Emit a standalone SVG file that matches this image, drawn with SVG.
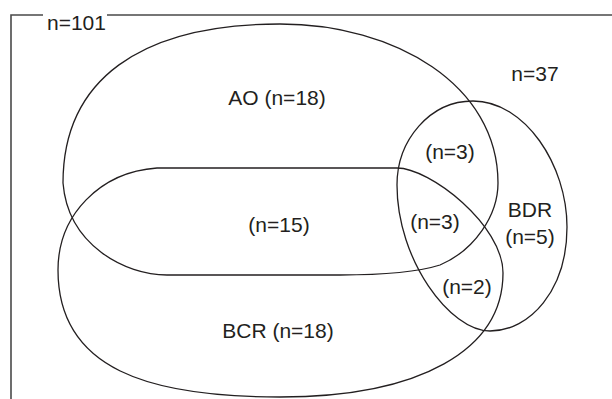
<svg xmlns="http://www.w3.org/2000/svg" width="612" height="399" viewBox="0 0 612 399">
<style>
.shape{fill:none;stroke:#231f20;stroke-width:1.3}
.frame{fill:none;stroke:#4a4a4a;stroke-width:1.6}
text{font-family:"Liberation Sans",Arial,sans-serif;font-size:21px;fill:#231f20}
.c{text-anchor:middle}
</style>
<rect width="612" height="399" fill="#fff"/>
<g id="frame">
<path class="frame" d="M11,399 V15 H43 M107,15 H612"/>
<text x="47" y="30">n=101</text>
<text class="c" x="535" y="81">n=37</text>
</g>
<g id="AO">
<path class="shape" d="M280,24 C395,24 498,85 498,183 C498,215 475,250 440,265 C415,273 380,275 340,275 H167 C125,275 68,245 63,183 C63,80 140,24 280,24 Z"/>
<text class="c" x="277" y="105">AO (n=18)</text>
</g>
<g id="BCR">
<path class="shape" d="M157,168 H397 C430,168 503,225 503,273 C503,350 420,397 280,397 C150,397 58,370 58,270 C58,215 100,172 157,168 Z"/>
<text class="c" x="278" y="338">BCR (n=18)</text>
</g>
<g id="BDR">
<path class="shape" d="M473,101 C525,101 567,165 567,227 C567,290 530,331 490,331 C450,331 397,260 397,185 C397,140 430,101 473,101 Z"/>
<text class="c" x="530" y="217">BDR</text>
<text class="c" x="530" y="244">(n=5)</text>
</g>
<g id="intersections">
<text class="c" x="450" y="159">(n=3)</text>
<text class="c" x="279" y="232">(n=15)</text>
<text class="c" x="435" y="229">(n=3)</text>
<text class="c" x="467" y="294">(n=2)</text>
</g>
<g id="connectors"></g>
</svg>
